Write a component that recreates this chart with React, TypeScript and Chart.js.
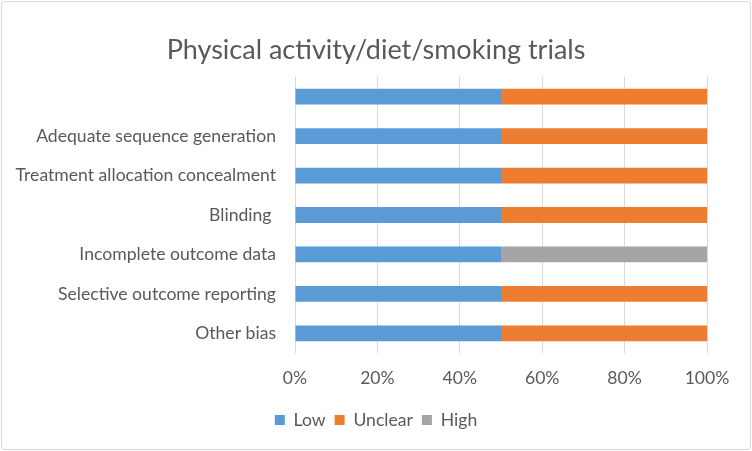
import React, { useEffect, useRef } from "react";
import { Chart, registerables } from "chart.js";

Chart.register(...registerables);

const categories: string[] = [
  "",
  "Adequate sequence generation",
  "Treatment allocation concealment",
  "Blinding ",
  "Incomplete outcome data",
  "Selective outcome reporting",
  "Other bias",
];
const lowValues: number[] = [50, 50, 50, 50, 50, 50, 50];
const unclearValues: number[] = [50, 50, 50, 50, 0, 50, 50];
const highValues: number[] = [0, 0, 0, 0, 50, 0, 0];
const xTicks: number[] = [0, 20, 40, 60, 80, 100];

const FONT = "Lato, 'Open Sans', sans-serif";
const TEXT = "#595959";
const FS = 17.6;

const widenBlocks = {
  id: "widenBlocks",
  afterLayout(chart: any) {
    const w = chart.width;
    for (const b of [chart.titleBlock, chart.legend]) {
      if (b) {
        b.left = 0;
        b.right = w;
        b.width = w;
      }
    }
  },
};

export default function App() {
  const ref = useRef<HTMLCanvasElement | null>(null);
  useEffect(() => {
    if (!ref.current) return;
    const chart = new Chart(ref.current, {
      type: "bar",
      data: {
        labels: categories,
        datasets: [
          { label: "Low", data: lowValues, backgroundColor: "#5b9bd5" },
          { label: "Unclear", data: unclearValues, backgroundColor: "#ed7d31" },
          { label: "High", data: highValues, backgroundColor: "#a5a5a5" },
        ],
      },
      plugins: [widenBlocks],
      options: {
        indexAxis: "y",
        responsive: false,
        animation: false,
        datasets: { bar: { categoryPercentage: 1, barPercentage: 0.4 } },
        layout: { padding: { left: 0, right: 45, top: 0, bottom: 12.2 } },
        plugins: {
          tooltip: { enabled: false },
          title: {
            display: true,
            text: "Physical activity/diet/smoking trials",
            color: TEXT,
            font: { family: FONT, size: 27, weight: "normal" },
            padding: { top: 34, bottom: 10.6 },
          },
          legend: {
            position: "bottom",
            align: "center",
            labels: {
              color: TEXT,
              font: { family: FONT, size: FS },
              boxWidth: 10,
              boxHeight: 10,
              padding: 9,
            },
          },
        },
        scales: {
          x: {
            stacked: true,
            min: 0,
            max: 100,
            afterBuildTicks: (s: any) => {
              s.ticks = xTicks.map((v) => ({ value: v }));
            },
            afterFit: (s: any) => {
              s.height = 49.2;
            },
            ticks: {
              color: TEXT,
              font: { family: FONT, size: FS },
              padding: 14.5,
              callback: (v: any) => v + "%",
            },
            grid: { color: "#d9d9d9", lineWidth: 1, drawTicks: false },
            border: { display: false },
          },
          y: {
            stacked: true,
            afterFit: (s: any) => {
              s.width = 295;
            },
            ticks: {
              color: TEXT,
              font: { family: FONT, size: FS },
              padding: 19,
            },
            grid: { display: false, drawTicks: false },
            border: { display: false },
          },
        },
      },
    });
    return () => chart.destroy();
  }, []);
  return (
    <div style={{ position: "absolute", left: 0, top: 0, width: 752, height: 451, background: "#fff" }}>
      <canvas ref={ref} width={752} height={451} style={{ position: "absolute", left: 0, top: 0 }} />
      <div
        style={{
          position: "absolute",
          left: 1,
          top: 1,
          width: 748,
          height: 447,
          border: "1px solid #d9d9d9",
          borderRadius: 3,
          pointerEvents: "none",
        }}
      />
    </div>
  );
}
